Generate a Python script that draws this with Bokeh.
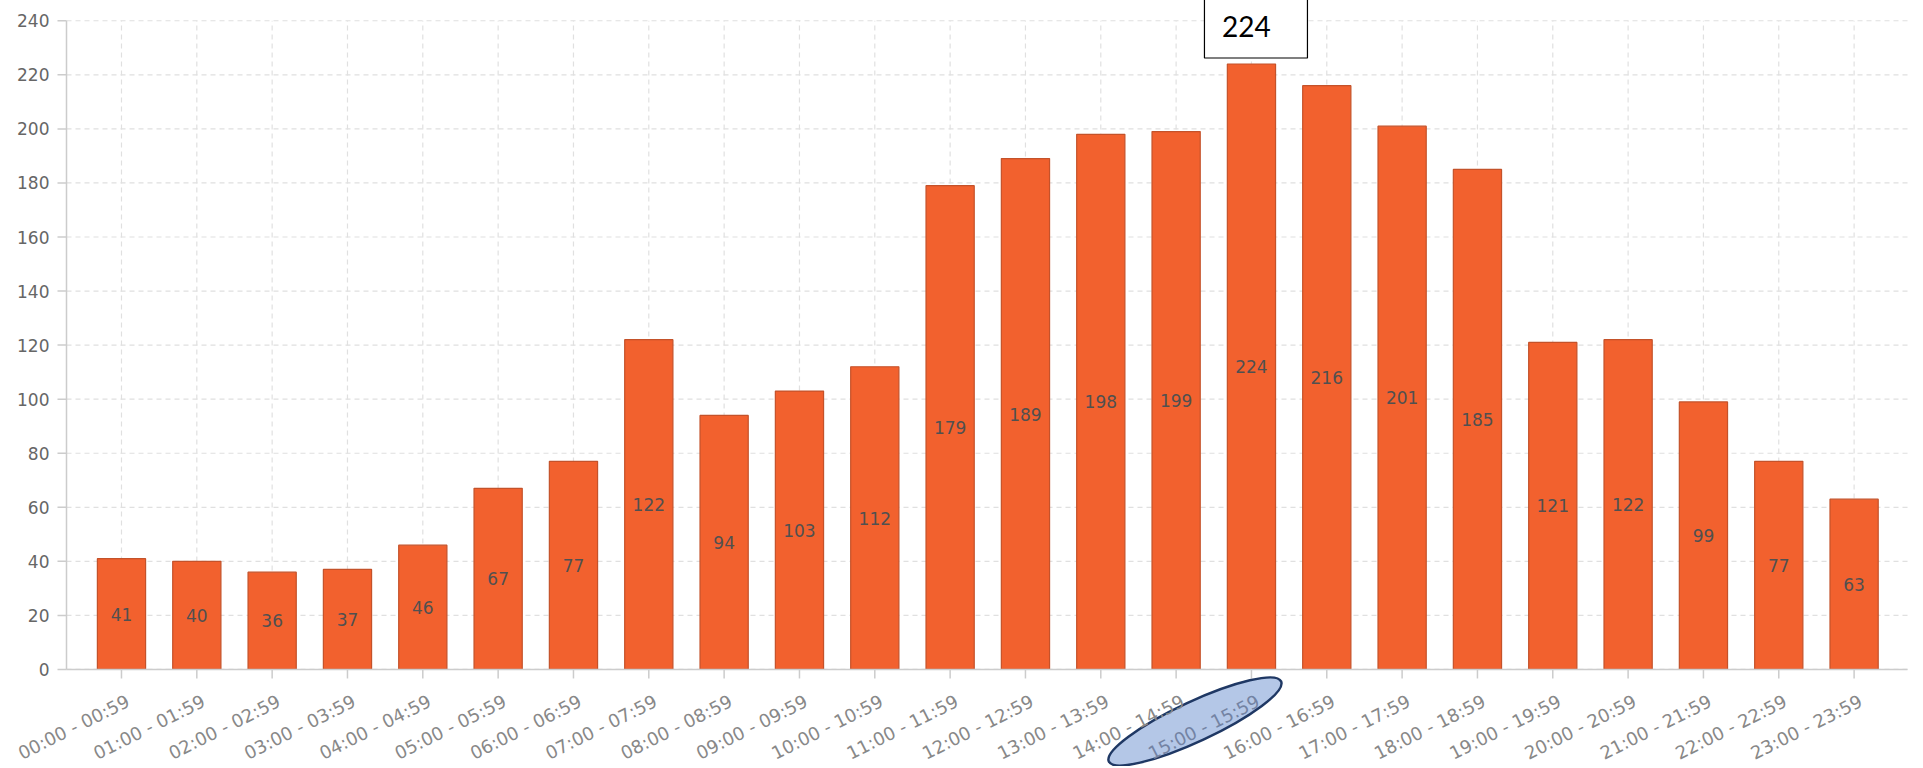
import numpy as np
from bokeh.plotting import figure
from bokeh.models import Range1d, ColumnDataSource, LabelSet
from bokeh.embed import file_html
from bokeh.resources import INLINE
from bokeh.core.properties import value

# ---- data ----
hour_labels = [
    "00:00 - 00:59", "01:00 - 01:59", "02:00 - 02:59", "03:00 - 03:59",
    "04:00 - 04:59", "05:00 - 05:59", "06:00 - 06:59", "07:00 - 07:59",
    "08:00 - 08:59", "09:00 - 09:59", "10:00 - 10:59", "11:00 - 11:59",
    "12:00 - 12:59", "13:00 - 13:59", "14:00 - 14:59", "15:00 - 15:59",
    "16:00 - 16:59", "17:00 - 17:59", "18:00 - 18:59", "19:00 - 19:59",
    "20:00 - 20:59", "21:00 - 21:59", "22:00 - 22:59", "23:00 - 23:59",
]
counts = [41, 40, 36, 37, 46, 67, 77, 122, 94, 103, 112, 179,
          189, 198, 199, 224, 216, 201, 185, 121, 122, 99, 77, 63]
y_ticks = [0, 20, 40, 60, 80, 100, 120, 140, 160, 180, 200, 220, 240]
highlight_index = 15

# ---- layout (frame covers the whole canvas; axes are drawn as glyphs) ----
W, H = 1915, 766
X0, X1 = -1.606, 23.815
Y0, Y1 = -35.9, 247.5
px_x = W / (X1 - X0)   # pixels per category
px_y = H / (Y1 - Y0)   # pixels per count unit


def dx(px):
    return px / px_x


def dy(px):
    return px / px_y


AX_L = X0 + dx(66)       # y-axis position
AX_R = X0 + dx(1907)     # right end of the plot area
YMAX = y_ticks[-1]
n = len(counts)
xs = list(range(n))

src = ColumnDataSource(dict(
    x=xs, count=counts, mid=[c / 2 for c in counts], label=[str(c) for c in counts]
))

p = figure(frame_width=W, frame_height=H,
           x_range=Range1d(X0, X1), y_range=Range1d(Y0, Y1),
           output_backend="svg", toolbar_location=None,
           min_border_left=0, min_border_right=0, min_border_top=0, min_border_bottom=0)
p.outline_line_color = None
p.background_fill_color = "white"
p.border_fill_color = "white"
p.xaxis.visible = False
p.yaxis.visible = False
p.xgrid.visible = False
p.ygrid.visible = False

GRID = dict(line_color="#e0e0e0", line_dash="5 4", line_width=1.2, level="underlay")
AXIS = dict(line_color="#cccccc", line_width=1.5)
XLAB = dict(angle=0.463, text_align="right", text_baseline="top",
            text_font=value("DejaVu Sans"), text_font_size="18px")

# grid lines
p.segment(x0=[AX_L] * len(y_ticks), y0=y_ticks, x1=[AX_R] * len(y_ticks), y1=y_ticks, **GRID)
p.segment(x0=xs, y0=[0] * n, x1=xs, y1=[YMAX] * n, **GRID)

# bars
p.vbar(x="x", top="count", width=0.64, source=src,
       fill_color="#F2612E", line_color="#C4522A", line_width=1.2)

p.add_layout(LabelSet(x="x", y="mid", text="label", source=src,
                      text_align="center", text_baseline="middle",
                      text_font=value("DejaVu Sans"), text_font_size="17px",
                      text_color="#505050"))

# y axis: line, ticks, labels
p.segment(x0=[AX_L], y0=[0], x1=[AX_L], y1=[YMAX], **AXIS)
p.segment(x0=[AX_L - dx(9)] * len(y_ticks), y0=y_ticks, x1=[AX_L] * len(y_ticks), y1=y_ticks, **AXIS)
p.text(x=[AX_L - dx(17)] * len(y_ticks), y=y_ticks, text=[str(t) for t in y_ticks],
       text_align="right", text_baseline="middle",
       text_font=value("DejaVu Sans"), text_font_size="17px", text_color="#666666")

# x axis: baseline, ticks
p.segment(x0=[AX_L], y0=[0], x1=[AX_R], y1=[0], **AXIS)
p.segment(x0=xs, y0=[0] * n, x1=xs, y1=[-dy(9)] * n, **AXIS)

# highlight ellipse around the 15:00 label (drawn before the labels)
p.ellipse(x=[highlight_index - dx(56.5)], y=[-dy(52)], width=190, height=40,
          width_units="screen", height_units="screen", angle=0.436,
          fill_color="#B4C7E7", fill_alpha=1.0,
          line_color="#1F3864", line_width=2.5)

# rotated category labels
others = [i for i in xs if i != highlight_index]
p.text(x=[i + dx(2) for i in others], y=[-dy(21)] * len(others),
       text=[hour_labels[i] for i in others], text_color="#888888", **XLAB)
p.text(x=[highlight_index + dx(2)], y=[-dy(21)], text=[hour_labels[highlight_index]],
       text_color="#7383A3", **XLAB)

# callout box above the peak bar
peak = int(np.argmax(counts))
p.quad(left=[peak - dx(47)], right=[peak + dx(56)],
       bottom=[counts[peak] + dy(6)], top=[Y1 + 5],
       fill_color="white", line_color="black", line_width=1.2, level="overlay")
p.text(x=[peak - dx(5)], y=[YMAX - dy(5.5)], text=[str(counts[peak])],
       text_align="center", text_baseline="middle",
       text_font=value("Lato"), text_font_size="28px", text_color="black", level="overlay")

open("out.html", "w").write(file_html(p, INLINE))
